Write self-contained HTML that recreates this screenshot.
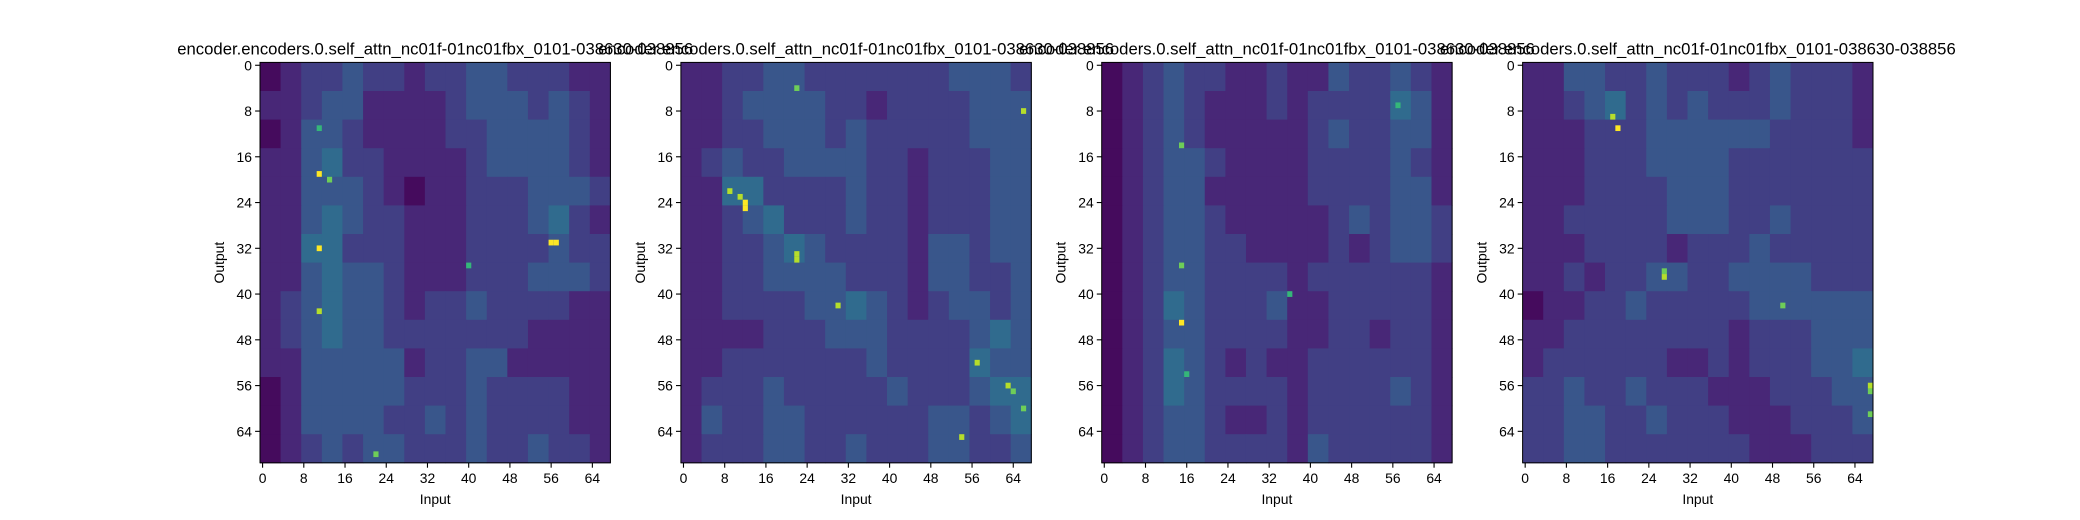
<!DOCTYPE html>
<html><head><meta charset="utf-8">
<style>
html,body{margin:0;padding:0;background:#fff;}
svg{display:block;font-family:"Liberation Sans","DejaVu Sans",sans-serif;}
</style></head>
<body>
<svg id="fig" width="2080" height="520" viewBox="0 0 2080 520" xmlns="http://www.w3.org/2000/svg">
<rect width="2080" height="520" fill="#fff"/>
</svg>
<script>
// Coarse attention grids: 14 block-rows (5 output rows each) x 17 block-cols (4 input cols each), level 0-9
const panel1 = [
"01223221223322211","11233111123332321","01332111122333321","11342211112333321",
"11333210112223332","11343221112223421","11442221112222322","11343321112223332",
"12343321223222211","12343322222221111","11333331223311111","01333332223222211",
"01333322323222211","01232332223223221"];
const panel2 = [
"11223322222223332","11233332212222333","11223332322222333","12322333322122233",
"11442222322122233","11234222322122233","11223432222133233","11223333222133223",
"11222233432123323","11112223332222343","11222222232222433","12223222223222344",
"13223322222233234","12223322322233223"];
const panel3 = [
"01232211211322321","01232111212222431","01232111112322331","01233211112222321",
"01233111112222331","01233211111232332","01233221111212332","01233222212222221",
"01243222311222221","01233222211221221","01243212112222221","01243222212222321",
"01233211212222221","01233222213222221"];
const panel4 = [
"11332232221232221","11234232322232221","11122233333322221","11122233332222222",
"11122223332222222","11222223332232222","11122221222322222","11212233223333222",
"01122322222333333","11222222221222333","12222221121222334","22322322211122233",
"22332232221112223","22332222222111222"];
const grids = [panel1, panel2, panel3, panel4];
// Bright single cells: [row, col, level]
const peaks1 = [[19,11,9],[32,11,9],[31,56,9],[31,57,9],[43,11,8],[20,13,7],[68,22,7],[11,11,6],[35,40,6]];
const peaks2 = [[24,12,9],[25,12,9],[23,11,8],[33,22,8],[34,22,8],[42,30,8],[8,66,8],[52,57,8],[56,63,8],[57,64,7],[60,66,7],[65,54,8],[4,22,7],[22,9,8]];
const peaks3 = [[45,15,9],[14,15,7],[35,15,7],[40,36,6],[7,57,6],[54,16,6]];
const peaks4 = [[11,18,9],[9,17,8],[37,27,8],[36,27,7],[56,67,8],[57,67,7],[42,50,7],[61,67,7]];
const peaks = [peaks1, peaks2, peaks3, peaks4];
const yTicks = [0,8,16,24,32,40,48,56,64];
const xTicks = [0,8,16,24,32,40,48,56,64];
const titleText = "encoder.encoders.0.self_attn_nc01f-01nc01fbx_0101-038630-038856";
const NROWS = 70, NCOLS = 68, BR = 5, BC = 4;

const NS = "http://www.w3.org/2000/svg";
const svg = document.getElementById('fig');
const viridis = ["#440154","#482878","#3e4989","#31688e","#26828e","#1f9e89","#35b779","#6ece58","#b5de2b","#fde725"];
function color(v){ const t=Math.max(0,Math.min(9,v)); const i=Math.floor(t); if(i>=9) return viridis[9];
  const f=t-i; const a=viridis[i], b=viridis[i+1];
  const c=k=>Math.round(parseInt(a.substr(k,2),16)*(1-f)+parseInt(b.substr(k,2),16)*f);
  return "rgb("+c(1)+","+c(3)+","+c(5)+")"; }
function mk(tag, attrs, parent){ const e=document.createElementNS(NS,tag); for(const k in attrs) e.setAttribute(k,attrs[k]); (parent||svg).appendChild(e); return e; }

const panelX = [260, 680.9, 1101.7, 1522.6];
const AX_W = 350.4, AX_TOP = 62.4, AX_H = 400.4;
const BLOCK_GAIN = 0.72;

grids.forEach((grid, p) => {
  const x0 = panelX[p];
  const xs = c => x0 + c * AX_W / NCOLS;
  const ys = r => AX_TOP + r * AX_H / NROWS;
  const g = mk('g', {});
  
  
  grid.forEach((rowStr, bi) => {
    for (let bj = 0; bj < rowStr.length; bj++) {
      const v = +rowStr[bj];
      const r = mk('rect', {x: xs(bj*BC), y: ys(bi*BR), width: xs((bj+1)*BC)-xs(bj*BC)+0.5, height: ys((bi+1)*BR)-ys(bi*BR)+0.5, fill: color(0.25 + v*BLOCK_GAIN)}, g);
      
      
    }
  });
  peaks[p].forEach(pk => {
    const r = mk('rect', {x: xs(pk[1]), y: ys(pk[0]), width: xs(pk[1]+1)-xs(pk[1]), height: ys(pk[0]+1)-ys(pk[0]), fill: color(pk[2])}, g);
    
    
  });
  const frame = mk('rect', {x: x0, y: AX_TOP, width: AX_W, height: AX_H, fill: 'none', stroke: '#000', 'stroke-width': 1});
  
  
  yTicks.forEach(t => {
    const y = ys(t + 0.5);
    mk('line', {x1: x0-4.9, x2: x0, y1: y, y2: y, stroke: '#000', 'stroke-width': 1.1});
    const tx = mk('text', {x: x0-8, y: y+5, 'font-size': 13.9, 'text-anchor': 'end', fill: '#000'});
    tx.textContent = t;
    
    
  });
  xTicks.forEach(t => {
    const x = xs(t + 0.5);
    mk('line', {x1: x, x2: x, y1: AX_TOP+AX_H, y2: AX_TOP+AX_H+4.9, stroke: '#000', 'stroke-width': 1.1});
    const tx = mk('text', {x: x, y: AX_TOP+AX_H+20, 'font-size': 13.9, 'text-anchor': 'middle', fill: '#000'});
    tx.textContent = t;
    
    
  });
  const xl = mk('text', {x: x0+AX_W/2, y: 504, 'font-size': 13.9, 'text-anchor': 'middle', fill: '#000'});
  xl.textContent = 'Input';
  
  
  const yl = mk('text', {x: 0, y: 0, 'font-size': 13.9, 'text-anchor': 'middle', fill: '#000', transform: 'translate(' + (x0-36) + ',' + (AX_TOP+AX_H/2) + ') rotate(-90)'});
  yl.textContent = 'Output';
  
  
  const ti = mk('text', {x: x0+AX_W/2, y: AX_TOP-8, 'font-size': 16.7, 'text-anchor': 'middle', fill: '#000'});
  ti.textContent = titleText;
  
  
});
</script>
</body></html>
